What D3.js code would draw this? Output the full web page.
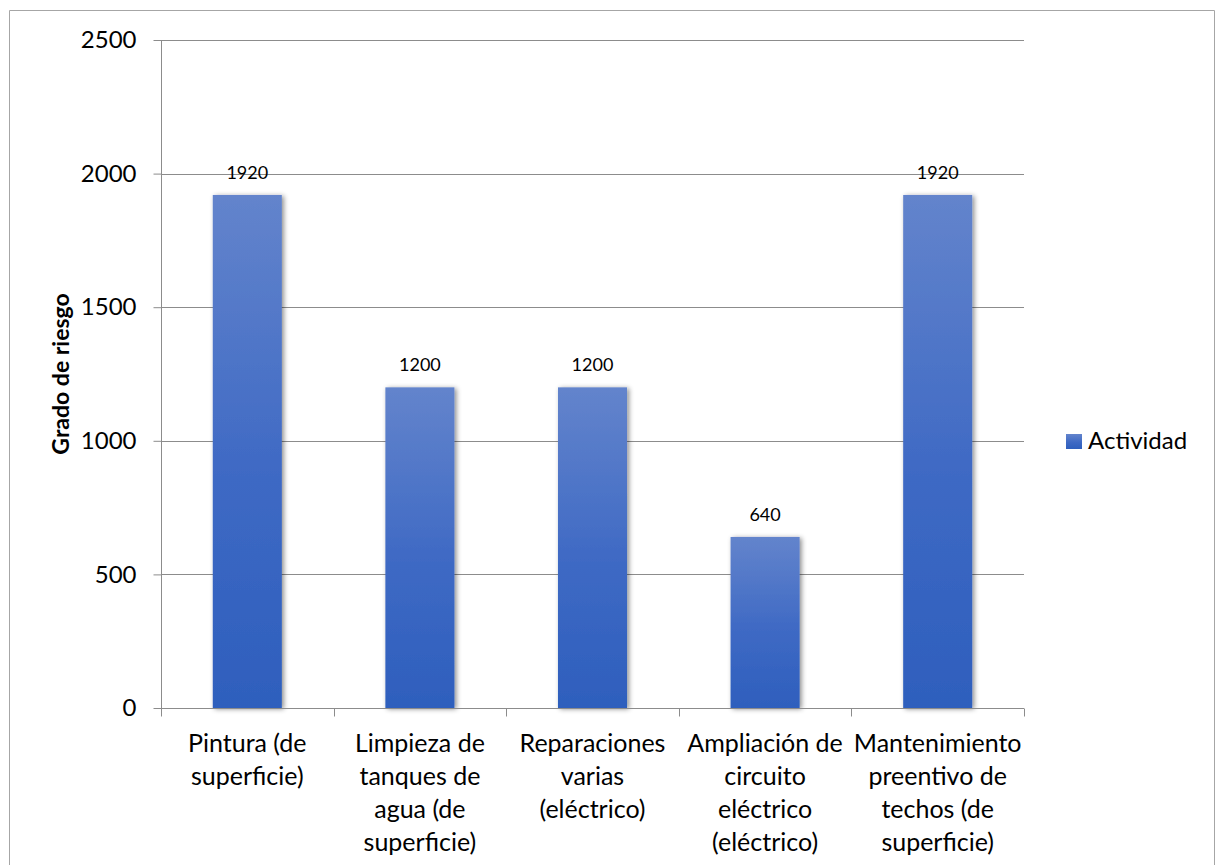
<!DOCTYPE html>
<html lang="es">
<head>
    <meta charset="UTF-8">
    <title>Grado de riesgo</title>
    <script src="https://cdn.jsdelivr.net/npm/d3@7"></script>
</head>
<body>

    <div class="marco"></div>

    <script>
    // datos
    var categorias = [
        ["Pintura (de", "superficie)"],
        ["Limpieza de", "tanques de", "agua (de", "superficie)"],
        ["Reparaciones", "varias", "(eléctrico)"],
        ["Ampliación de", "circuito", "eléctrico", "(eléctrico)"],
        ["Mantenimiento", "preentivo de", "techos (de", "superficie)"]
    ]
    var valores = [1920, 1200, 1200, 640, 1920]
    var ticksY = [0, 500, 1000, 1500, 2000, 2500]
    var serie = "Actividad",
        tituloY = "Grado de riesgo"

    var width = 1219, height = 865,
        margin = { top: 40, left: 161, bottom: 157, right: 195 },
        innerWidth = width - margin.left - margin.right,
        innerHeight = height - margin.top - margin.bottom

    var svg = d3.select(".marco").append("svg")
        .attr("width", width)
        .attr("height", height)

    var defs = svg.append("defs")
    var grad = defs.append("linearGradient")
        .attr("id", "azul")
        .attr("x1", 0).attr("y1", 0).attr("x2", 0).attr("y2", 1)
    grad.append("stop").attr("offset", "0%").attr("stop-color", "#6384cc")
    grad.append("stop").attr("offset", "55%").attr("stop-color", "#3e69c4")
    grad.append("stop").attr("offset", "100%").attr("stop-color", "#2e5fbd")

    var sombra = defs.append("filter").attr("id", "sombra")
        .attr("x", "-20%").attr("y", "-5%").attr("width", "150%").attr("height", "115%")
    sombra.append("feDropShadow")
        .attr("dx", 2).attr("dy", 1).attr("stdDeviation", 2.5)
        .attr("flood-color", "#000").attr("flood-opacity", 0.45)

    // borde exterior (sigue por debajo del recorte)
    svg.append("path")
        .attr("d", `M9.5,${height}V10.5H1214.5V${height}`)
        .attr("fill", "none")
        .attr("stroke", "#a6a6a6")

    var g = svg.append("g")
        .attr("transform", `translate(${margin.left}, ${margin.top})`)

    var x = d3.scaleBand()
        .domain(d3.range(valores.length))
        .range([0, innerWidth])
        .paddingInner(0.6)
        .paddingOuter(0.3)
    var y = d3.scaleLinear().domain([0, 2500]).range([innerHeight, 0])

    // rejilla
    g.append("g").selectAll("line")
        .data(ticksY.filter(d => d > 0))
        .enter().append("line")
        .attr("x1", 0).attr("x2", innerWidth)
        .attr("y1", d => Math.round(y(d)) + 0.5)
        .attr("y2", d => Math.round(y(d)) + 0.5)
        .attr("stroke", "#8c8c8c")

    //Eje vertical
    var ejeY = g.append("g")
        .attr("transform", "translate(0.5,0)")
        .call(d3.axisLeft(y).tickValues(ticksY).tickSize(8).tickPadding(17).tickFormat(d3.format("d")))
    ejeY.select(".domain").attr("stroke", "#8c8c8c").attr("d", `M0,0V${innerHeight}`)
    ejeY.selectAll(".tick line").attr("stroke", "#8c8c8c")
    ejeY.selectAll(".tick text")
        .attr("font-family", "Lato, sans-serif")
        .attr("font-size", 24)
        .attr("fill", "#000")

    // barras
    g.selectAll(".barra")
        .data(valores)
        .enter().append("rect")
        .attr("class", "barra")
        .attr("x", (d, i) => x(i))
        .attr("y", d => y(d))
        .attr("width", x.bandwidth())
        .attr("height", d => innerHeight - y(d))
        .attr("fill", "url(#azul)")
        .attr("filter", "url(#sombra)")

    // etiquetas de datos
    g.selectAll(".dato")
        .data(valores)
        .enter().append("text")
        .attr("class", "dato")
        .attr("x", (d, i) => x(i) + x.bandwidth() / 2)
        .attr("y", d => y(d) - 16)
        .attr("text-anchor", "middle")
        .attr("font-family", "Lato, sans-serif")
        .attr("font-size", 18)
        .text(d => d)

    //Eje horizontal
    var paso = innerWidth / valores.length
    var ejeX = g.append("g").attr("transform", `translate(0, ${Math.round(innerHeight) + 0.5})`)
    ejeX.append("line").attr("x1", 0).attr("x2", innerWidth).attr("stroke", "#8c8c8c")
    ejeX.selectAll(".marca")
        .data(d3.range(valores.length + 1))
        .enter().append("line")
        .attr("x1", d => Math.round(d * paso) + 0.5)
        .attr("x2", d => Math.round(d * paso) + 0.5)
        .attr("y1", 0).attr("y2", 8)
        .attr("stroke", "#8c8c8c")

    var etiquetas = ejeX.selectAll(".cat")
        .data(categorias)
        .enter().append("text")
        .attr("class", "cat")
        .attr("x", (d, i) => x(i) + x.bandwidth() / 2)
        .attr("y", 43)
        .attr("text-anchor", "middle")
        .attr("font-family", "Lato, sans-serif")
        .attr("font-size", 25)
    etiquetas.selectAll("tspan")
        .data(d => d)
        .enter().append("tspan")
        .attr("x", function () { return this.parentNode.getAttribute("x") })
        .attr("dy", (d, i) => i === 0 ? 0 : 33)
        .text(d => d)

    // titulo eje Y
    svg.append("text")
        .attr("transform", `translate(69, ${margin.top + innerHeight / 2}) rotate(-90)`)
        .attr("text-anchor", "middle")
        .attr("font-family", "Lato, sans-serif")
        .attr("font-weight", "bold")
        .attr("font-size", 23)
        .text(tituloY)

    // leyenda
    var ley = svg.append("g").attr("transform", "translate(1066, 434)")
    ley.append("rect").attr("width", 16).attr("height", 15).attr("fill", "url(#azul)")
    ley.append("text")
        .attr("x", 22).attr("y", 15)
        .attr("font-family", "Lato, sans-serif")
        .attr("font-size", 24)
        .text(serie)
    </script>

    <style>
    html, body{padding: 0; margin: 0; background-color: #fff;}
    svg{ display: block; }
    </style>
</body>
</html>
